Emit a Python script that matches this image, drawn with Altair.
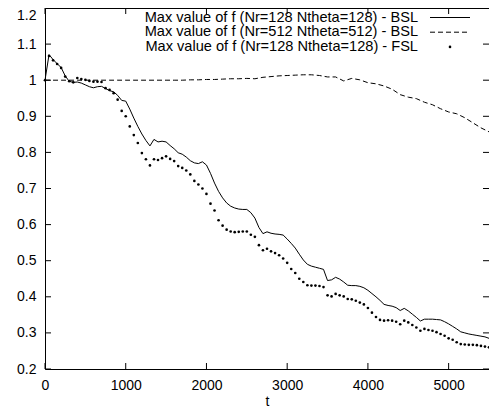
import altair as alt
import pandas as pd

# ---------------- data ----------------
t_50 = [0, 50, 100, 150, 200, 250, 300, 350, 400, 450,
        500, 550, 600, 650, 700, 750, 800, 850, 900, 950,
        1000, 1050, 1100, 1150, 1200, 1250, 1300, 1350, 1400, 1450,
        1500, 1550, 1600, 1650, 1700, 1750, 1800, 1850, 1900, 1950,
        2000, 2050, 2100, 2150, 2200, 2250, 2300, 2350, 2400, 2450,
        2500, 2550, 2600, 2650, 2700, 2750, 2800, 2850, 2900, 2950,
        3000, 3050, 3100, 3150, 3200, 3250, 3300, 3350, 3400, 3450,
        3500, 3550, 3600, 3650, 3700, 3750, 3800, 3850, 3900, 3950,
        4000, 4050, 4100, 4150, 4200, 4250, 4300, 4350, 4400, 4450,
        4500, 4550, 4600, 4650, 4700, 4750, 4800, 4850, 4900, 4950,
        5000, 5050, 5100, 5150, 5200, 5250, 5300, 5350, 5400, 5450,
        5500]

bsl_128 = [1.000, 1.071, 1.057, 1.046, 1.035, 1.012, 0.997, 0.994, 0.995, 0.992,
           0.987, 0.982, 0.979, 0.982, 0.983, 0.977, 0.971, 0.968, 0.958, 0.944,
           0.942, 0.920, 0.895, 0.872, 0.851, 0.833, 0.818, 0.836, 0.829, 0.831,
           0.829, 0.819, 0.810, 0.799, 0.795, 0.787, 0.777, 0.771, 0.769, 0.774,
           0.765, 0.742, 0.715, 0.692, 0.674, 0.660, 0.651, 0.646, 0.643, 0.642,
           0.642, 0.633, 0.618, 0.592, 0.575, 0.580, 0.576, 0.574, 0.573, 0.571,
           0.560, 0.548, 0.535, 0.518, 0.502, 0.490, 0.485, 0.482, 0.479, 0.476,
           0.445, 0.447, 0.454, 0.449, 0.441, 0.432, 0.431, 0.431, 0.429, 0.425,
           0.418, 0.409, 0.400, 0.390, 0.379, 0.376, 0.374, 0.370, 0.362, 0.368,
           0.361, 0.352, 0.343, 0.333, 0.338, 0.338, 0.338, 0.337, 0.336, 0.331,
           0.325, 0.318, 0.311, 0.303, 0.300, 0.297, 0.295, 0.293, 0.291, 0.289,
           0.285]

fsl_128 = [1.000, 1.067, 1.055, 1.045, 1.034, 1.010, 0.997, 0.994, 1.006, 1.003,
           1.001, 0.998, 0.996, 0.996, 0.995, 0.978, 0.973, 0.964, 0.946, 0.915,
           0.900, 0.872, 0.848, 0.826, 0.798, 0.781, 0.764, 0.781, 0.779, 0.784,
           0.789, 0.782, 0.776, 0.762, 0.757, 0.750, 0.739, 0.721, 0.711, 0.700,
           0.685, 0.658, 0.639, 0.612, 0.597, 0.586, 0.581, 0.579, 0.580, 0.581,
           0.581, 0.572, 0.566, 0.543, 0.529, 0.533, 0.526, 0.521, 0.515, 0.506,
           0.494, 0.477, 0.466, 0.450, 0.441, 0.432, 0.431, 0.431, 0.430, 0.427,
           0.404, 0.401, 0.408, 0.404, 0.401, 0.394, 0.393, 0.389, 0.384, 0.379,
           0.369, 0.356, 0.344, 0.336, 0.334, 0.335, 0.334, 0.331, 0.324, 0.334,
           0.329, 0.322, 0.315, 0.306, 0.311, 0.308, 0.306, 0.302, 0.297, 0.292,
           0.285, 0.281, 0.274, 0.269, 0.268, 0.267, 0.267, 0.266, 0.264, 0.262,
           0.260]

t_100 = [0, 100, 200, 300, 400, 500, 600, 700, 800, 900,
         1000, 1100, 1200, 1300, 1400, 1500, 1600, 1700, 1800, 1900,
         2000, 2100, 2200, 2300, 2400, 2500, 2600, 2700, 2800, 2900,
         3000, 3100, 3200, 3300, 3400, 3500, 3600, 3700, 3800, 3900,
         4000, 4100, 4200, 4300, 4400, 4500, 4600, 4700, 4800, 4900,
         5000, 5100, 5200, 5300, 5400, 5500]

bsl_512 = [1.000, 1.000, 1.000, 1.000, 1.000, 1.000, 1.000, 1.000, 1.000, 1.000,
           1.000, 1.000, 1.000, 1.000, 1.000, 1.000, 1.000, 1.000, 1.001, 1.001,
           1.002, 1.002, 1.003, 1.004, 1.004, 1.005, 1.004, 1.008, 1.010, 1.012,
           1.013, 1.014, 1.015, 1.015, 1.013, 1.009, 1.009, 0.998, 1.005, 1.001,
           0.993, 0.990, 0.984, 0.975, 0.960, 0.953, 0.949, 0.939, 0.932, 0.921,
           0.912, 0.907, 0.896, 0.882, 0.868, 0.857]

x_ticks = [0, 1000, 2000, 3000, 4000, 5000]
y_ticks = [0.2, 0.3, 0.4, 0.5, 0.6, 0.7, 0.8, 0.9, 1.0, 1.1, 1.2]

legend_labels = ["Max value of f (Nr=128 Ntheta=128) - BSL",
                 "Max value of f (Nr=512 Ntheta=512) - BSL",
                 "Max value of f (Nr=128 Ntheta=128) - FSL"]

# ---------------- chart ----------------
W, H = 444, 361
FONT = "Liberation Sans"
TICK = 6

df_bsl128 = pd.DataFrame({"t": t_50, "f": bsl_128})
df_fsl128 = pd.DataFrame({"t": t_50, "f": fsl_128})
df_bsl512 = pd.DataFrame({"t": t_100, "f": bsl_512})
df_xt = pd.DataFrame({"t": x_ticks})
df_yt = pd.DataFrame({"f": y_ticks})

x_scale = alt.Scale(domain=[0, 5500], nice=False, zero=False)
y_scale = alt.Scale(domain=[0.2, 1.2], nice=False, zero=False)

x_enc = alt.X("t:Q", scale=x_scale,
              axis=alt.Axis(values=x_ticks, title="t", format="d", labelFlush=False,
                            ticks=False, tickSize=0, domain=False, grid=False,
                            labelPadding=9, titlePadding=2))
y_enc = alt.Y("f:Q", scale=y_scale,
              axis=alt.Axis(values=y_ticks, title=None, format="~g", labelFlush=False,
                            ticks=False, tickSize=0, domain=False, grid=False,
                            labelPadding=9,
                            labelBaseline={"condition": {"test": "datum.value > 1.15", "value": "top"},
                                           "value": "middle"}))

line_bsl128 = alt.Chart(df_bsl128).mark_line(color="black", strokeWidth=1).encode(x=x_enc, y=y_enc)
line_bsl512 = alt.Chart(df_bsl512).mark_line(color="black", strokeWidth=1, strokeDash=[5, 3]).encode(x=x_enc, y=y_enc)
pts_fsl128 = alt.Chart(df_fsl128).mark_circle(color="black", size=7, opacity=1).encode(x=x_enc, y=y_enc)

tick_top = alt.Chart(df_xt).mark_rule(color="black", strokeWidth=1).encode(
    x=x_enc, y=alt.value(0), y2=alt.value(TICK))
tick_bottom = alt.Chart(df_xt).mark_rule(color="black", strokeWidth=1).encode(
    x=x_enc, y=alt.value(H - TICK), y2=alt.value(H))
tick_left = alt.Chart(df_yt).mark_rule(color="black", strokeWidth=1).encode(
    y=y_enc, x=alt.value(0), x2=alt.value(TICK))
tick_right = alt.Chart(df_yt).mark_rule(color="black", strokeWidth=1).encode(
    y=y_enc, x=alt.value(W - TICK), x2=alt.value(W))

# key (top right, labels left of the samples)
key_rows = [9.5, 24.2, 38.9]
key_text_x = W - 71
key_sample = (W - 59, W - 19)
key_layers = []
for i, lab in enumerate(legend_labels):
    key_layers.append(
        alt.Chart(pd.DataFrame({"label": [lab]})).mark_text(
            align="right", baseline="middle", font=FONT, fontSize=14.6, color="black"
        ).encode(x=alt.value(key_text_x), y=alt.value(key_rows[i]), text="label:N")
    )
key_layers.append(
    alt.Chart(pd.DataFrame({"k": [0]})).mark_rule(color="black", strokeWidth=1).encode(
        x=alt.value(key_sample[0]), x2=alt.value(key_sample[1]), y=alt.value(key_rows[0]))
)
key_layers.append(
    alt.Chart(pd.DataFrame({"k": [1]})).mark_rule(color="black", strokeWidth=1, strokeDash=[5, 3]).encode(
        x=alt.value(key_sample[0]), x2=alt.value(key_sample[1]), y=alt.value(key_rows[1]))
)
key_layers.append(
    alt.Chart(pd.DataFrame({"k": [2]})).mark_circle(color="black", size=7, opacity=1).encode(
        x=alt.value((key_sample[0] + key_sample[1]) / 2), y=alt.value(key_rows[2]))
)

chart = alt.layer(
    line_bsl512, line_bsl128, pts_fsl128,
    tick_top, tick_bottom, tick_left, tick_right,
    *key_layers
).properties(
    width=W, height=H,
    padding={"left": 37, "top": 0, "right": 0, "bottom": 41},
    autosize=alt.AutoSizeParams(type="none"),
).configure_view(
    stroke="black", strokeWidth=1
).configure_axis(
    labelFont=FONT, labelFontSize=14, labelColor="black",
    titleFont=FONT, titleFontSize=14, titleFontWeight="normal", titleColor="black"
)

chart.save("out.html", embed_options={"renderer": "svg", "actions": False})
